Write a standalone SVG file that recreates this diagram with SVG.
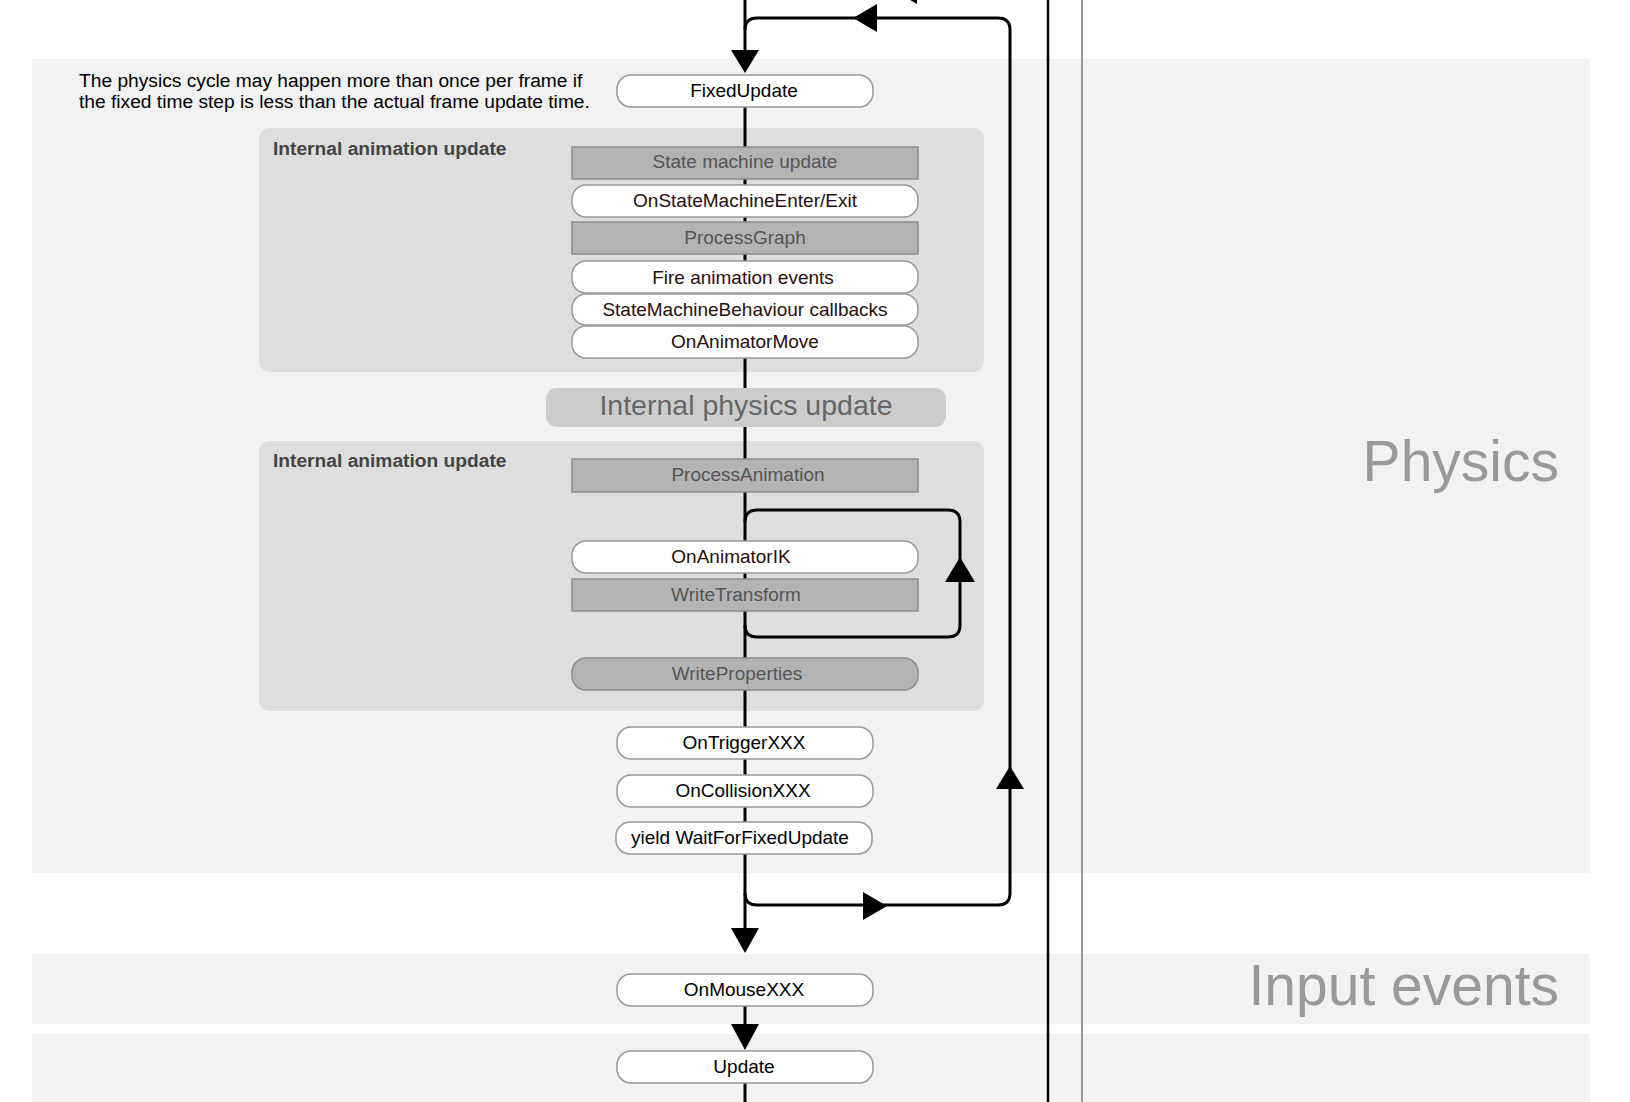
<svg xmlns="http://www.w3.org/2000/svg" width="1630" height="1102" viewBox="0 0 1630 1102">
<style>
.band{fill:#f2f2f2}
.grp{fill:#dedede}
.ln{fill:none;stroke:#000;stroke-width:3}
.ah{fill:#000}
.wb{fill:#fff;stroke:#999;stroke-width:1.5}
.gb{fill:#b3b3b3;stroke:#8c8c8c;stroke-width:1.5}
.t{font-family:"Liberation Sans",Arial,sans-serif;font-size:19px;text-anchor:middle}
.tk{fill:#000}
.tm{fill:#2a0d0d}
.tg{fill:#555}
.lbl{font-family:"Liberation Sans",Arial,sans-serif;font-size:19.2px;font-weight:bold;fill:#444}
.big{font-family:"Liberation Sans",Arial,sans-serif;font-size:57px;fill:#999;text-anchor:end}
</style>
<g id="bands">
<rect class="band" x="32" y="59" width="1558" height="814"/>
<rect class="band" x="32" y="954" width="1558" height="70"/>
<rect class="band" x="32" y="1034" width="1558" height="70"/>
<text class="big" x="1559" y="481">Physics</text>
<text class="big" x="1559" y="1005">Input events</text>
</g>
<g id="note">
<text font-family="Liberation Sans, Arial, sans-serif" font-size="19.2" fill="#000"><tspan x="79" y="87">The physics cycle may happen more than once per frame if</tspan><tspan x="79" y="108">the fixed time step is less than the actual frame update time.</tspan></text>
</g>
<g id="group-anim1">
<rect class="grp" x="259" y="128" width="725" height="244" rx="11"/>
<text class="lbl" x="273" y="155">Internal animation update</text>
</g>
<g id="group-anim2">
<rect class="grp" x="259" y="441" width="725" height="270" rx="11"/>
<text class="lbl" x="273" y="467">Internal animation update</text>
</g>
<g id="connectors">
<line class="ln" x1="745" y1="0" x2="745" y2="52"/>
<line class="ln" x1="745" y1="107" x2="745" y2="930"/>
<line class="ln" x1="745" y1="1006" x2="745" y2="1026"/>
<line class="ln" x1="745" y1="1083" x2="745" y2="1102"/>
<path class="ln" d="M745,893 Q745,905 757,905 L998,905 Q1010,905 1010,893 L1010,30 Q1010,18 998,18 L757,18 Q745,18 745,30"/>
<path class="ln" d="M745,522 Q745,510 757,510 L948,510 Q960,510 960,522 L960,625 Q960,637 948,637 L757,637 Q745,637 745,625"/>
<line x1="1048" y1="0" x2="1048" y2="1102" stroke="#000" stroke-width="2.5"/>
<line x1="1082" y1="0" x2="1082" y2="1102" stroke="#999" stroke-width="2"/>
<polygon class="ah" points="731,50 759,50 745,73"/>
<polygon class="ah" points="853,18 877,4 877,32"/>
<polygon class="ah" points="893,-10 917,-24 917,4"/>
<polygon class="ah" points="887,906 863,892 863,920"/>
<polygon class="ah" points="1010,766 996,789 1024,789"/>
<polygon class="ah" points="960,557 945,582 975,582"/>
<polygon class="ah" points="731,928 759,928 745,953"/>
<polygon class="ah" points="731,1024 759,1024 745,1050"/>
</g>
<g id="FixedUpdate"><rect class="wb" x="617" y="75" width="256" height="32" rx="14"/><text class="t tk" x="744" y="97">FixedUpdate</text></g>
<g id="StateMachineUpdate"><rect class="gb" x="572" y="147" width="346" height="32"/><text class="t tg" x="745" y="168">State machine update</text></g>
<g id="OnStateMachineEnterExit"><rect class="wb" x="572" y="185" width="346" height="32" rx="14"/><text class="t tm" x="745" y="207">OnStateMachineEnter/Exit</text></g>
<g id="ProcessGraph"><rect class="gb" x="572" y="222" width="346" height="32"/><text class="t tg" x="745" y="244">ProcessGraph</text></g>
<g id="FireAnimationEvents"><rect class="wb" x="572" y="261" width="346" height="32" rx="14"/><text class="t tm" x="743" y="284">Fire animation events</text></g>
<g id="StateMachineBehaviourCallbacks"><rect class="wb" x="572" y="294" width="346" height="31" rx="14"/><text class="t tm" x="745" y="316">StateMachineBehaviour callbacks</text></g>
<g id="OnAnimatorMove"><rect class="wb" x="572" y="326" width="346" height="32" rx="14"/><text class="t tm" x="745" y="348">OnAnimatorMove</text></g>
<g id="InternalPhysicsUpdate"><rect x="546" y="388" width="400" height="39" rx="11" fill="#cccccc"/><text x="746" y="415" font-family="Liberation Sans, Arial, sans-serif" font-size="28.5" fill="#666" text-anchor="middle">Internal physics update</text></g>
<g id="ProcessAnimation"><rect class="gb" x="572" y="459" width="346" height="33"/><text class="t tg" x="748" y="481">ProcessAnimation</text></g>
<g id="OnAnimatorIK"><rect class="wb" x="572" y="541" width="346" height="32" rx="14"/><text class="t tm" x="731" y="563">OnAnimatorIK</text></g>
<g id="WriteTransform"><rect class="gb" x="572" y="579" width="346" height="32"/><text class="t tg" x="736" y="601">WriteTransform</text></g>
<g id="WriteProperties"><rect class="gb" x="572" y="658" width="346" height="32" rx="14"/><text class="t tg" x="737" y="680">WriteProperties</text></g>
<g id="OnTriggerXXX"><rect class="wb" x="617" y="727" width="256" height="32" rx="14"/><text class="t tk" x="744" y="749">OnTriggerXXX</text></g>
<g id="OnCollisionXXX"><rect class="wb" x="617" y="775" width="256" height="32" rx="14"/><text class="t tk" x="743" y="797">OnCollisionXXX</text></g>
<g id="yieldWaitForFixedUpdate"><rect class="wb" x="616" y="822" width="256" height="32" rx="14"/><text class="t tk" x="740" y="844">yield WaitForFixedUpdate</text></g>
<g id="OnMouseXXX"><rect class="wb" x="617" y="974" width="256" height="32" rx="14"/><text class="t tk" x="744" y="996">OnMouseXXX</text></g>
<g id="Update"><rect class="wb" x="617" y="1051" width="256" height="32" rx="14"/><text class="t tk" x="744" y="1073">Update</text></g>
</svg>
